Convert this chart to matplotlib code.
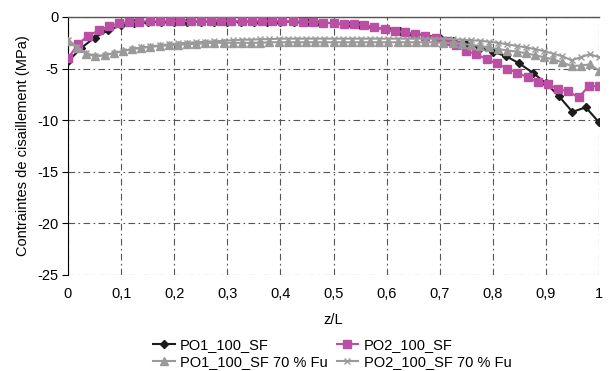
import numpy as np
import matplotlib
matplotlib.use("Agg")
import matplotlib.pyplot as plt

plt.rcParams['font.family'] = ['Liberation Sans', 'DejaVu Sans']

# ---- data ----
x_po1 = np.linspace(0, 1, 41)
po1 = [-4.3, -3.0, -2.0, -1.3, -0.8, -0.6, -0.5, -0.45, -0.45, -0.45,
       -0.45, -0.45, -0.45, -0.45, -0.45, -0.45, -0.45, -0.45, -0.5, -0.55,
       -0.6, -0.7, -0.8, -1.0, -1.2, -1.4, -1.6, -1.8, -2.0, -2.3,
       -2.6, -3.0, -3.36, -3.8, -4.5, -5.4, -6.4, -7.7, -9.2, -8.75, -10.2]

x_po2 = np.linspace(0, 1, 53)
po2 = [-4.0, -2.6, -1.8, -1.3, -0.9, -0.6, -0.5, -0.45, -0.4, -0.4,
       -0.4, -0.4, -0.4, -0.4, -0.4, -0.4, -0.4, -0.4, -0.4, -0.4,
       -0.4, -0.4, -0.4, -0.45, -0.5, -0.55, -0.6, -0.68, -0.7, -0.75,
       -1.0, -1.2, -1.35, -1.5, -1.6, -1.8, -2.0, -2.3, -2.7, -3.3,
       -3.6, -4.1, -4.5, -5.0, -5.4, -5.85, -6.3, -6.5, -7.0, -7.2,
       -7.8, -6.7, -6.7]

x_70 = np.linspace(0, 1, 59)
po1_70 = [-2.3, -3.0, -3.6, -3.8, -3.7, -3.5, -3.3, -3.1, -3.0, -2.9,
          -2.8, -2.75, -2.7, -2.65, -2.6, -2.55, -2.5, -2.5, -2.5, -2.5,
          -2.5, -2.5, -2.45, -2.45, -2.45, -2.45, -2.45, -2.45, -2.45, -2.45,
          -2.45, -2.45, -2.45, -2.45, -2.45, -2.45, -2.45, -2.45, -2.45, -2.45,
          -2.45, -2.5, -2.55, -2.6, -2.7, -2.8, -2.95, -3.1, -3.25, -3.35,
          -3.5, -3.7, -3.9, -4.1, -4.4, -4.75, -4.7, -4.6, -5.2]
po2_70 = [-2.2, -2.9, -3.5, -3.8, -3.7, -3.5, -3.3, -3.1, -2.95, -2.85,
          -2.75, -2.65, -2.55, -2.5, -2.45, -2.4, -2.35, -2.3, -2.25, -2.2,
          -2.2, -2.15, -2.15, -2.1, -2.1, -2.1, -2.1, -2.1, -2.1, -2.1,
          -2.1, -2.1, -2.1, -2.1, -2.1, -2.1, -2.1, -2.1, -2.1, -2.1,
          -2.1, -2.1, -2.15, -2.2, -2.25, -2.3, -2.4, -2.5, -2.65, -2.8,
          -2.95, -3.1, -3.3, -3.55, -3.8, -4.2, -3.9, -3.6, -3.9]

labels = ['PO1_100_SF', 'PO2_100_SF', 'PO1_100_SF 70 % Fu', 'PO2_100_SF 70 % Fu']
xticks = [0, 0.1, 0.2, 0.3, 0.4, 0.5, 0.6, 0.7, 0.8, 0.9, 1]
xticklabels = ['0', '0,1', '0,2', '0,3', '0,4', '0,5', '0,6', '0,7', '0,8', '0,9', '1']
yticks = [0, -5, -10, -15, -20, -25]

# ---- figure ----
fig = plt.figure(figsize=(6.14, 3.71), dpi=100)
ax = fig.add_axes([68/614, 1-275/371, (599-68)/614, (275-17)/371])

black = '#1c1c1c'
mag = '#bb4fa3'
gray = '#9a9a9a'
fs = 10.5

l1, = ax.plot(x_po1, po1, color=black, marker='D', markersize=4, lw=1.5, zorder=3)
l2, = ax.plot(x_po2, po2, color=mag, marker='s', markersize=6, lw=1.5, zorder=4)
l3, = ax.plot(x_70, po1_70, color=gray, marker='^', markersize=6, lw=1.5, zorder=5)
l4, = ax.plot(x_70, po2_70, color=gray, marker='x', markersize=5, mew=1.0, lw=1.5, zorder=6)

ax.set_xlim(0, 1)
ax.set_ylim(-25, 0)
ax.set_xticks(xticks)
ax.set_xticklabels(xticklabels)
ax.set_yticks(yticks)
ax.set_yticklabels([str(v) for v in yticks])

ax.grid(True, color='#555555', linestyle=(0, (6, 3, 1.5, 3)), linewidth=0.8)
ax.set_axisbelow(True)

ax.spines['right'].set_visible(False)
ax.spines['top'].set_color('#555555')
ax.spines['top'].set_linewidth(1.0)
ax.spines['left'].set_color('black')
ax.spines['bottom'].set_visible(False)

ax.tick_params(axis='x', length=0, labelsize=fs, pad=9)
ax.tick_params(axis='y', length=4, direction='out', labelsize=fs, pad=3)

ax.set_xlabel('z/L', fontsize=fs, labelpad=8)
ax.set_ylabel('Contraintes de cisaillement (MPa)', fontsize=fs, labelpad=5)

fig.legend([l1, l3, l2, l4], [labels[0], labels[2], labels[1], labels[3]],
           loc='center', bbox_to_anchor=(0.541, 0.047),
           ncol=2, frameon=False, fontsize=fs, handlelength=1.5, handletextpad=0.35,
           columnspacing=0.6, labelspacing=0.2, borderpad=0, markerscale=0.9)

fig.savefig('out.png', dpi=100)
